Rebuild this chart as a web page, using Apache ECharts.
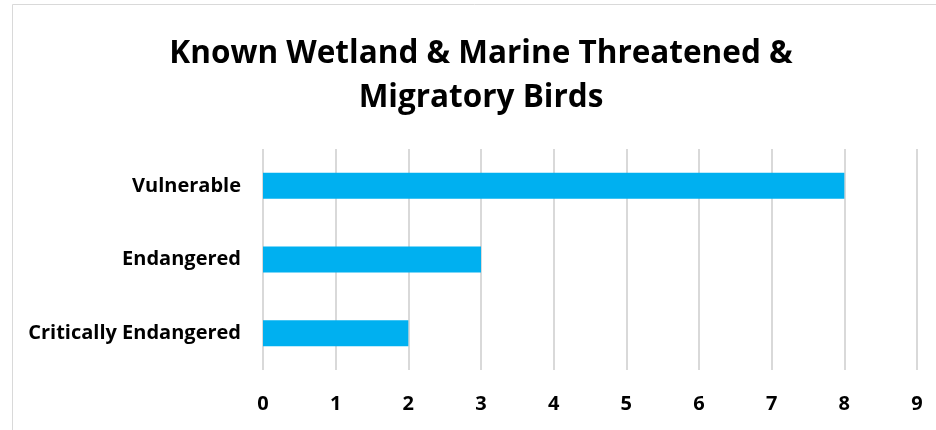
<!DOCTYPE html>
<html><head><meta charset="utf-8">
<script src="https://cdn.jsdelivr.net/npm/echarts@6/dist/echarts.min.js"></script>
<style>html,body{margin:0;padding:0;background:#fff}#c{width:936px;height:430px}</style>
</head><body><div id="c"></div>
<script>
const categories = ['Critically Endangered', 'Endangered', 'Vulnerable'];
const values = [2, 3, 8];
const titleText = 'Known Wetland & Marine Threatened &\nMigratory Birds';
const chart = echarts.init(document.getElementById('c'));
const F = 'Open Sans';
chart.setOption({
  animation: false,
  graphic: [{type:'rect', shape:{x:12.5,y:4.5,width:940,height:440}, style:{fill:'none',stroke:'#d9d9d9',lineWidth:1}, silent:true}],
  title: {text: titleText, left: 476, top: 27, textAlign:'center', textStyle:{fontFamily:F, fontWeight:'bold', fontSize:31.5, color:'#000', lineHeight:44}},
  grid: {left: 263, right: 19, top: 149, bottom: 60, containLabel: false},
  xAxis: {type:'value', min:0, max:9, interval:1,
    axisLine:{show:false}, axisTick:{show:false},
    splitLine:{lineStyle:{color:'#d9d9d9', width:2}},
    axisLabel:{fontFamily:F, fontWeight:'bold', fontSize:20, color:'#000', margin:24}},
  yAxis: {type:'category', data: categories,
    axisLine:{show:false}, axisTick:{show:false},
    axisLabel:{fontFamily:F, fontWeight:'bold', fontSize:20, color:'#000', margin:22}},
  series: [{type:'bar', data: values, barWidth:26, itemStyle:{color:'#00B0F0'}}]
});
</script></body></html>
